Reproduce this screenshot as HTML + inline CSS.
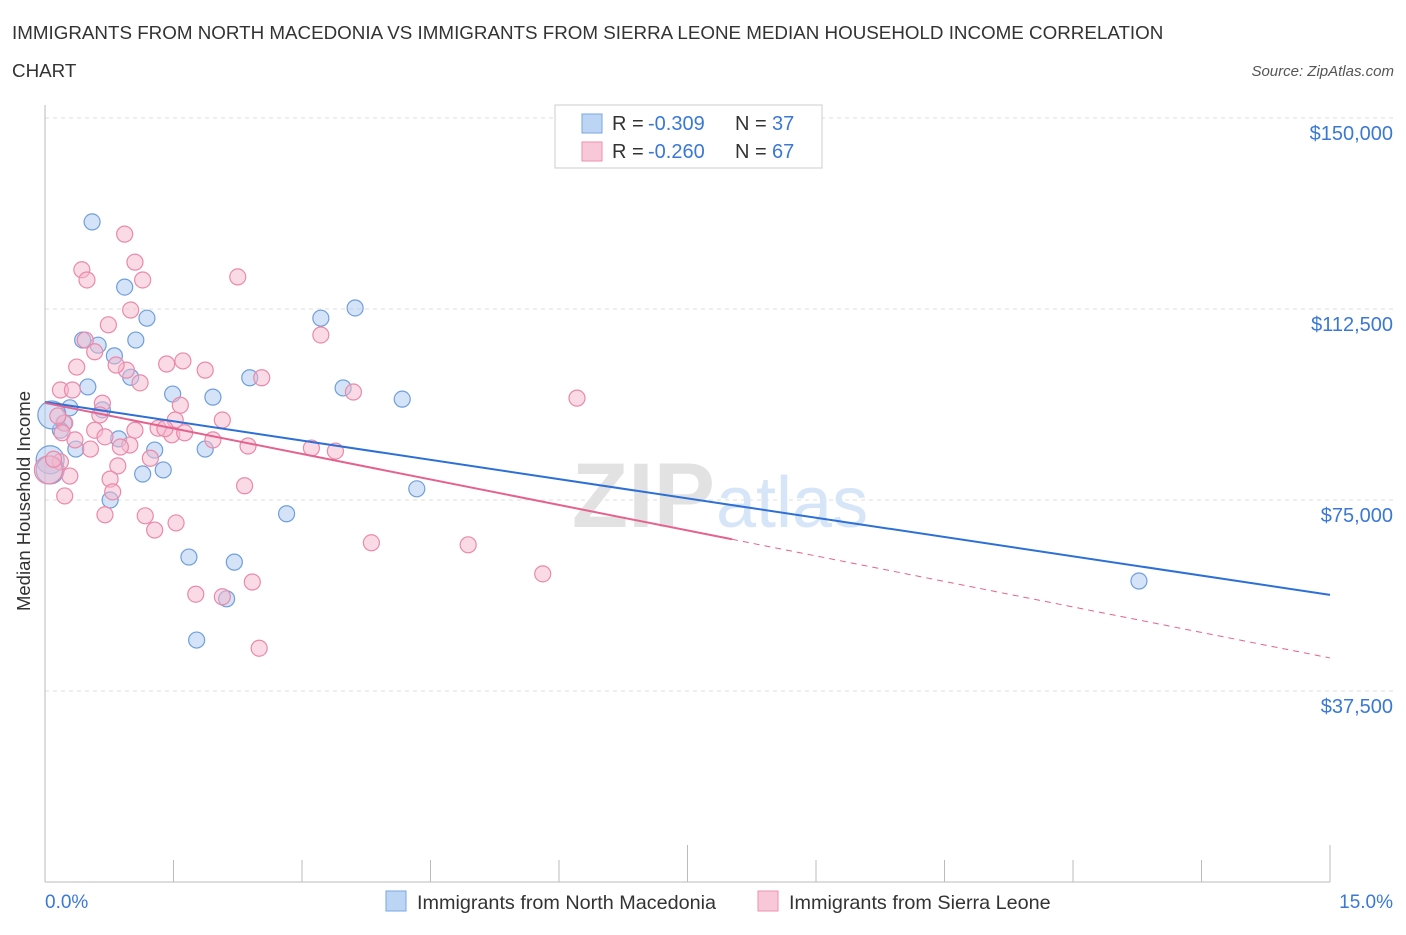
<!DOCTYPE html>
<html><head><meta charset="utf-8"><style>
body{margin:0;background:#fff;font-family:"Liberation Sans",sans-serif;}
svg text{font-family:"Liberation Sans",sans-serif;}
</style></head><body>
<svg width="1406" height="930" viewBox="0 0 1406 930">
<text x="12" y="39" font-size="18.8" fill="#333">IMMIGRANTS FROM NORTH MACEDONIA VS IMMIGRANTS FROM SIERRA LEONE MEDIAN HOUSEHOLD INCOME CORRELATION</text>
<text x="12" y="77" font-size="18.8" fill="#333">CHART</text>
<text x="1394" y="76" font-size="15" fill="#555" font-style="italic" text-anchor="end">Source: ZipAtlas.com</text>
<g id="grid"></g>
<text x="715" y="527" font-size="92" font-weight="bold" fill="#e2e2e2" text-anchor="end" font-family="Liberation Serif">ZIP</text>
<text x="716" y="527" font-size="72" fill="#d6e5f7">atlas</text>
<g id="marks"></g>
<text x="22" y="493" font-size="18.5" fill="#333" transform="rotate(-90 30 493)" text-anchor="middle">Median Household Income</text>
<text x="45" y="908" font-size="19" fill="#3a78d8">0.0%</text>
<text x="1393" y="908" font-size="19" fill="#3a78d8" text-anchor="end">15.0%</text>
<g>
<rect x="555" y="105" width="267" height="63" fill="#fff" stroke="#ccc"/>
<rect x="582" y="114" width="20" height="19" fill="#bcd5f5" stroke="#7aa6e0"/>
<text x="612" y="130" font-size="20" fill="#333">R =</text>
<text x="648" y="130" font-size="20" fill="#3a78d8">-0.309</text>
<text x="735" y="130" font-size="20" fill="#333">N =</text>
<text x="772" y="130" font-size="20" fill="#3a78d8">37</text>
<rect x="582" y="142" width="20" height="19" fill="#f8c8d8" stroke="#ec8fae"/>
<text x="612" y="158" font-size="20" fill="#333">R =</text>
<text x="648" y="158" font-size="20" fill="#3a78d8">-0.260</text>
<text x="735" y="158" font-size="20" fill="#333">N =</text>
<text x="772" y="158" font-size="20" fill="#3a78d8">67</text>
</g>
<g>
<rect x="386" y="891" width="20" height="20" fill="#bcd5f5" stroke="#7aa6e0"/>
<text x="417" y="909" font-size="19.8" fill="#333">Immigrants from North Macedonia</text>
<rect x="758" y="891" width="20" height="20" fill="#f8c8d8" stroke="#ec8fae"/>
<text x="789" y="909" font-size="19.8" fill="#333">Immigrants from Sierra Leone</text>
</g>
</svg>
<script>
const yTicks=[37500,75000,112500,150000];
const yTickLabels=["$37,500","$75,000","$112,500","$150,000"];
const xTicks=[0,1.5,3,4.5,6,7.5,9,10.5,12,13.5,15];
const blueX=[0.55,0.93,1.19,3.22,3.62,0.44,0.62,1.06,0.81,1.00,2.39,0.50,1.49,1.96,3.48,4.17,0.29,0.67,0.22,0.18,0.86,1.28,0.36,1.87,1.38,1.14,0.06,0.08,4.34,0.76,2.82,1.68,2.21,2.12,1.77,12.77,0.06];
const blueY=[129600,116800,110700,110700,112700,106400,105400,106400,103300,99100,99000,97200,95800,95200,97000,94800,93100,92700,90100,88700,87000,84800,85000,85000,80900,80100,82900,91700,77200,75000,72300,63800,62800,55600,47500,59100,80900];
const pinkX=[0.93,0.43,1.05,0.49,1.14,2.25,1.00,0.74,3.22,0.47,0.58,0.37,1.61,1.42,1.87,0.95,0.83,2.53,1.11,0.18,0.32,3.60,6.21,1.58,0.67,2.07,1.52,0.23,0.58,1.05,1.32,1.48,1.63,0.20,0.70,0.35,0.99,0.88,2.37,3.11,3.39,0.53,1.23,0.85,0.18,0.04,0.29,0.76,2.33,0.79,0.23,0.70,1.17,1.53,1.28,3.81,4.94,5.81,1.76,2.07,2.42,2.50,0.15,0.64,1.96,1.40,0.10];
const pinkY=[127200,120200,121700,118200,118200,118800,112300,109400,107400,106400,104100,101100,102300,101700,100500,100500,101500,99000,98000,96600,96600,96200,95000,93600,94000,90700,90700,90100,88700,88700,89100,87800,88200,88200,87400,86800,85800,85400,85600,85200,84600,85000,83200,81700,82500,80900,79700,79100,77800,76600,75800,72100,71900,70500,69100,66600,66200,60500,56500,56000,58900,45900,91500,91700,86800,89000,83000];
const blueLine=[94250,56370];
const pinkLine=[94060,43990];
const pinkSolidEnd=8.02;
const NS="http://www.w3.org/2000/svg";
const xs=v=>45+v/15*1285;
const ys=v=>882-v/150000*764;
function mk(t,a,p){const e=document.createElementNS(NS,t);for(const k in a)e.setAttribute(k,a[k]);p.appendChild(e);return e;}
const grid=document.getElementById('grid'),marks=document.getElementById('marks');
yTicks.forEach((v,i)=>{
 const l=mk('line',{x1:45,x2:1394,y1:ys(v),y2:ys(v),stroke:'#ddd','stroke-dasharray':'4,4'},grid);
 
 
 const t=mk('text',{x:1393,y:ys(v)+22,'font-size':20,fill:'#3a78d8','text-anchor':'end'},grid);
 t.textContent=yTickLabels[i];
 
 
});
const ax=mk('line',{x1:45,x2:1330,y1:882,y2:882,stroke:'#bbb'},grid);


const ay=mk('line',{x1:45,x2:45,y1:105,y2:882,stroke:'#bbb'},grid);


xTicks.forEach(v=>{
 const l=mk('line',{x1:xs(v),x2:xs(v),y1:882,y2:(v==0||v==7.5||v==15)?845:860,stroke:'#bbb'},grid);
 
 
});
function dots(X,Y,fill,stroke,name){X.forEach((x,i)=>{
 const big=x<0.1;
 const c=mk('circle',{cx:xs(x),cy:ys(Y[i]),r:big?14:8,fill:fill,'fill-opacity':0.5,stroke:stroke,'stroke-width':1.2},marks);
 
 
});}
dots(blueX,blueY,'#a9c8f0','#6f9fdc','point-north-macedonia');
dots(pinkX,pinkY,'#f5b7cb','#ea89aa','point-sierra-leone');
const lb=v=>blueLine[0]+(blueLine[1]-blueLine[0])*v/15;
const lp=v=>pinkLine[0]+(pinkLine[1]-pinkLine[0])*v/15;
const b=mk('line',{x1:xs(0),y1:ys(lb(0)),x2:xs(15),y2:ys(lb(15)),stroke:'#2c6fd6','stroke-width':2},marks);


const p=mk('line',{x1:xs(0),y1:ys(lp(0)),x2:xs(pinkSolidEnd),y2:ys(lp(pinkSolidEnd)),stroke:'#e5628e','stroke-width':2},marks);


const pd=mk('line',{x1:xs(pinkSolidEnd),y1:ys(lp(pinkSolidEnd)),x2:xs(15),y2:ys(lp(15)),stroke:'#e5628e','stroke-width':1,'stroke-dasharray':'6,5'},marks);


</script>
</body></html>
